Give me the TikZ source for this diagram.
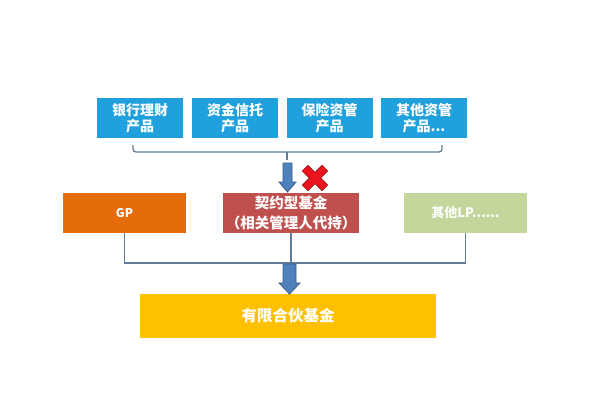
\documentclass[tikz,border=0pt]{standalone}
\usepackage{fontspec}
\setmainfont{Noto Sans CJK SC}
\definecolor{boxblue}{RGB}{32,160,220}
\definecolor{gporange}{RGB}{228,108,10}
\definecolor{fundred}{RGB}{192,80,77}
\definecolor{lpgreen}{RGB}{195,214,155}
\definecolor{lpyellow}{RGB}{255,192,0}
\definecolor{linegray}{RGB}{96,124,152}
\definecolor{arrowblue}{RGB}{79,129,189}
\definecolor{arrowedge}{RGB}{56,93,138}
\definecolor{xred}{RGB}{235,20,30}
\definecolor{xedge}{RGB}{150,20,20}
\tikzset{
  prodbox/.style={fill=boxblue, minimum width=86pt, minimum height=40pt, inner sep=0pt, text=white, align=center, font=\fontsize{14}{16}\selectfont\bfseries},
  rowbox/.style={minimum height=40pt, inner sep=0pt, text=white, align=center},
  conn/.style={draw=linegray, line width=1.6pt},
  blockarrow/.style={fill=arrowblue, draw=arrowedge, line width=0.8pt},
}
\begin{document}
\begin{tikzpicture}[x=1pt,y=-1pt]
\useasboundingbox (0,0) rectangle (600,400);
% top products
\node[prodbox] (p1) at (140,118) {银行理财\\产品};
\node[prodbox] (p2) at (235,118) {资金信托\\产品};
\node[prodbox] (p3) at (329.5,118) {保险资管\\产品};
\node[prodbox] (p4) at (424,118) {其他资管\\产品...};
% bracket
\coordinate (bl) at (133,145);
\coordinate (br) at (442,145);
\coordinate (bm) at (287,152);
\coordinate (bt) at (287,160);
\draw[conn, line width=1.3pt, rounded corners=3pt] (bl) -- (bl |- bm) -- (br |- bm) -- (br);
\draw[conn, line width=1.3pt] (bm) -- (bt);
% second row
\node[rowbox, fill=gporange, minimum width=123pt, font=\fontsize{12}{14}\selectfont\bfseries] (gp) at (124.5,213) {GP};
\node[rowbox, fill=fundred, minimum width=136pt, font=\fontsize{14.5}{20}\selectfont\bfseries] (cf) at (291,213) {契约型基金\\（相关管理人代持）};
\node[rowbox, fill=lpgreen, minimum width=123pt, font=\fontsize{13}{14}\selectfont\bfseries] (lp) at (465.5,213) {其他LP......};
% arrow 1
\draw[blockarrow] (283,163) -- (292,163) -- (292,182) -- (296,182) -- (287.5,192) -- (279,182) -- (283,182) -- cycle;
% red cross
\begin{scope}[shift={(315,178)}, rotate=45]
\draw[fill=xred, draw=xedge, line width=0.6pt] (-4,-14) -- (4,-14) -- (4,-4) -- (14,-4) -- (14,4) -- (4,4) -- (4,14) -- (-4,14) -- (-4,4) -- (-14,4) -- (-14,-4) -- (-4,-4) -- cycle;
\end{scope}
% bottom
\node[rowbox, fill=lpyellow, minimum width=296pt, minimum height=44pt, font=\fontsize{15.5}{18}\selectfont\bfseries] (lf) at (288,316) {有限合伙基金};
\coordinate (jn) at (289,263);
\draw[conn] (gp.south) -- (gp.south |- jn) -- (lp.south |- jn) -- (lp.south);
\draw[conn] (cf.south) -- (cf.south |- jn);
% arrow 2
\draw[blockarrow] (283,264) -- (296,264) -- (296,283) -- (300,283) -- (289.5,294) -- (279,283) -- (283,283) -- cycle;
\end{tikzpicture}
\end{document}
